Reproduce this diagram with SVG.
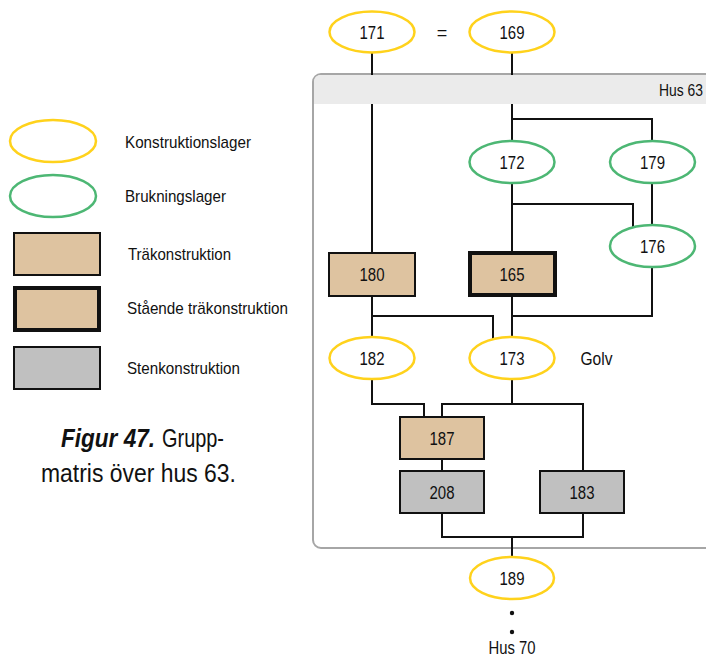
<svg xmlns="http://www.w3.org/2000/svg" width="706" height="658" viewBox="0 0 706 658">
<style>
text{font-family:"Liberation Sans",Arial,sans-serif;fill:#111}
.n{font-size:18px;text-anchor:middle}
.lg{font-size:17px}
.yl{fill:#fff;stroke:#FFD21C;stroke-width:2.5}
.gr{fill:#fff;stroke:#4DB774;stroke-width:2.5}
.wood{fill:#DEC3A0;stroke:#111;stroke-width:2}
.stand{fill:#DEC3A0;stroke:#111;stroke-width:4}
.stone{fill:#C0C0C0;stroke:#111;stroke-width:2}
.c{fill:none;stroke:#111;stroke-width:2}
</style>
<rect width="706" height="658" fill="#fff"/>

<g id="legend">
<ellipse class="yl" cx="53" cy="141" rx="43" ry="21"/>
<text class="lg" x="125" y="148" textLength="126" lengthAdjust="spacingAndGlyphs">Konstruktionslager</text>
<ellipse class="gr" cx="53" cy="196" rx="43" ry="21"/>
<text class="lg" x="125" y="202" textLength="101" lengthAdjust="spacingAndGlyphs">Brukningslager</text>
<rect class="wood" x="14" y="233" width="86" height="42"/>
<text class="lg" x="128" y="260" textLength="103" lengthAdjust="spacingAndGlyphs">Träkonstruktion</text>
<rect class="stand" x="15" y="288" width="84" height="42"/>
<text class="lg" x="127" y="314" textLength="161" lengthAdjust="spacingAndGlyphs">Stående träkonstruktion</text>
<rect class="stone" x="14" y="347" width="86" height="42"/>
<text class="lg" x="127" y="374" textLength="113" lengthAdjust="spacingAndGlyphs">Stenkonstruktion</text>
</g>

<g id="caption">
<text x="61" y="447" font-size="26" font-weight="bold" font-style="italic" textLength="94" lengthAdjust="spacingAndGlyphs">Figur 47.</text>
<text x="162" y="447" font-size="26" textLength="62" lengthAdjust="spacingAndGlyphs">Grupp-</text>
<text x="41" y="482" font-size="26" textLength="195" lengthAdjust="spacingAndGlyphs">matris över hus 63.</text>
</g>

<g id="container">
<rect x="313" y="74" width="430" height="474" rx="8" fill="none" stroke="#A6A6A6" stroke-width="2"/>
</g>

<g id="connectors">
<path class="c" d="M372 53V253"/>
<path class="c" d="M512 53V141"/>
<path class="c" d="M512 119H652V141"/>
<path class="c" d="M512 183V253"/>
<path class="c" d="M512 204H633V228"/>
<path class="c" d="M652 183V225"/>
<path class="c" d="M372 296V337"/>
<path class="c" d="M372 316H493V340"/>
<path class="c" d="M512 296V337"/>
<path class="c" d="M652 267V316H512"/>
<path class="c" d="M372 379V404H424V417"/>
<path class="c" d="M512 379V404"/>
<path class="c" d="M442 417V404H583V471"/>
<path class="c" d="M442 459V471"/>
<path class="c" d="M442 513V537H583V513"/>
<path class="c" d="M512 537V557"/>
</g>

<g id="header">
<path d="M314 104V82Q314 75 321 75H706V104Z" fill="#EBEBEB"/>
<text x="703" y="96" font-size="17" text-anchor="end" textLength="44" lengthAdjust="spacingAndGlyphs">Hus 63</text>
</g>

<g id="n171"><ellipse class="yl" cx="372" cy="32" rx="42.5" ry="20.5"/><text class="n" x="372" y="38.5" textLength="25" lengthAdjust="spacingAndGlyphs">171</text></g>
<g id="eq"><text class="n" x="442" y="38.5">=</text></g>
<g id="n169"><ellipse class="yl" cx="512" cy="32" rx="42.5" ry="20.5"/><text class="n" x="512" y="38.5" textLength="25" lengthAdjust="spacingAndGlyphs">169</text></g>
<g id="n172"><ellipse class="gr" cx="512" cy="162" rx="42.5" ry="21"/><text class="n" x="512" y="168.5" textLength="25" lengthAdjust="spacingAndGlyphs">172</text></g>
<g id="n179"><ellipse class="gr" cx="652.5" cy="162" rx="42.5" ry="21"/><text class="n" x="652.5" y="168.5" textLength="25" lengthAdjust="spacingAndGlyphs">179</text></g>
<g id="n176"><ellipse class="gr" cx="652.5" cy="246" rx="42.5" ry="21"/><text class="n" x="652.5" y="252.5" textLength="25" lengthAdjust="spacingAndGlyphs">176</text></g>
<g id="n180"><rect class="wood" x="329" y="253" width="86" height="43"/><text class="n" x="372" y="281" textLength="25" lengthAdjust="spacingAndGlyphs">180</text></g>
<g id="n165"><rect class="stand" x="470" y="253" width="85" height="42"/><text class="n" x="512" y="280.5" textLength="25" lengthAdjust="spacingAndGlyphs">165</text></g>
<g id="n182"><ellipse class="yl" cx="372" cy="358" rx="42.5" ry="21"/><text class="n" x="372" y="364.5" textLength="25" lengthAdjust="spacingAndGlyphs">182</text></g>
<g id="n173"><ellipse class="yl" cx="512" cy="358" rx="42.5" ry="21"/><text class="n" x="512" y="364.5" textLength="25" lengthAdjust="spacingAndGlyphs">173</text></g>
<g id="golv"><text class="n" x="596.5" y="364.5" textLength="32" lengthAdjust="spacingAndGlyphs">Golv</text></g>
<g id="n187"><rect class="wood" x="400" y="417" width="84" height="42"/><text class="n" x="442" y="444.5" textLength="25" lengthAdjust="spacingAndGlyphs">187</text></g>
<g id="n208"><rect class="stone" x="400" y="471" width="84" height="42"/><text class="n" x="442" y="498.5" textLength="25" lengthAdjust="spacingAndGlyphs">208</text></g>
<g id="n183"><rect class="stone" x="540" y="471" width="84" height="42"/><text class="n" x="582" y="498.5" textLength="25" lengthAdjust="spacingAndGlyphs">183</text></g>
<g id="n189"><ellipse class="yl" cx="512" cy="578" rx="42" ry="21"/><text class="n" x="512" y="584.5" textLength="25" lengthAdjust="spacingAndGlyphs">189</text></g>
<g id="hus70">
<circle cx="512" cy="613" r="2.2" fill="#111"/>
<circle cx="512" cy="632" r="2.2" fill="#111"/>
<text class="n" x="512" y="654" font-size="17" textLength="47" lengthAdjust="spacingAndGlyphs">Hus 70</text>
</g>
</svg>
